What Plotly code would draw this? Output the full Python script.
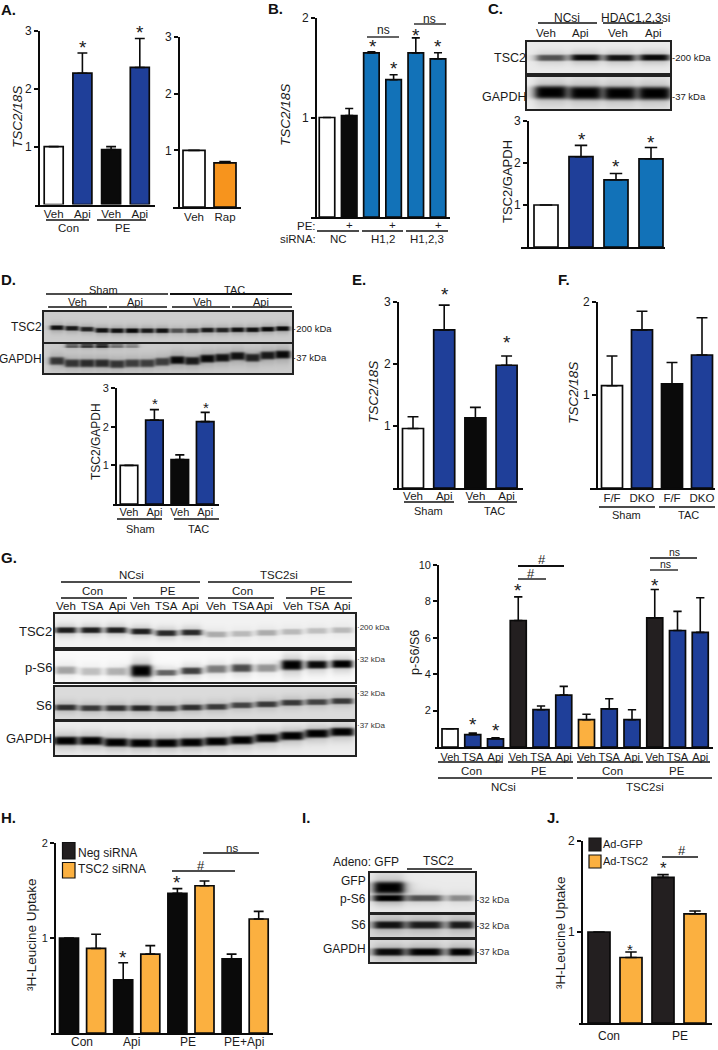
import numpy as np
import plotly.graph_objects as go

W, H = 718, 1050
FONT = "Liberation Sans"
INK = "#1a1a1a"
BLUE = "#1f3f99"
CYAN = "#1272b8"
ORANGE_A = "#f7941d"
ORANGE = "#fbb040"
BLACK = "#0a0a0a"
CHAR = "#231f20"
WHITE = "#ffffff"

# ---------- bar chart data ----------
a1_labels = ["Veh", "Api", "Veh", "Api"]
a1_values = [1.0, 2.27, 0.95, 2.37]
a1_errors = [0, 0.35, 0.05, 0.5]
a1_colors = [WHITE, BLUE, BLACK, BLUE]

a2_labels = ["Veh", "Rap"]
a2_values = [1.0, 0.78]
a2_errors = [0, 0.02]
a2_colors = [WHITE, ORANGE_A]

b_values = [1.0, 1.02, 1.65, 1.38, 1.65, 1.59]
b_errors = [0, 0.07, 0.01, 0.05, 0.15, 0.06]
b_colors = [WHITE, BLACK, CYAN, CYAN, CYAN, CYAN]

c_values = [1.0, 2.15, 1.6, 2.1]
c_errors = [0, 0.27, 0.15, 0.27]
c_colors = [WHITE, BLUE, CYAN, CYAN]

d_labels = ["Veh", "Api", "Veh", "Api"]
d_values = [1.0, 2.17, 1.15, 2.13]
d_errors = [0, 0.27, 0.12, 0.24]
d_colors = [WHITE, BLUE, BLACK, BLUE]

e_labels = ["Veh", "Api", "Veh", "Api"]
e_values = [0.96, 2.55, 1.13, 1.98]
e_errors = [0.19, 0.4, 0.17, 0.15]
e_colors = [WHITE, BLUE, BLACK, BLUE]

f_labels = ["F/F", "DKO", "F/F", "DKO"]
f_values = [1.1, 1.7, 1.12, 1.43]
f_errors = [0.32, 0.2, 0.23, 0.4]
f_colors = [WHITE, BLUE, BLACK, BLUE]

g_labels = ["Veh", "TSA", "Api"] * 4
g_values = [1.0, 0.68, 0.45, 6.95, 2.05, 2.85, 1.5, 2.1, 1.5, 7.1, 6.4, 6.3]
g_errors = [0, 0.08, 0.06, 1.3, 0.2, 0.48, 0.3, 0.55, 0.55, 1.55, 1.05, 1.9]
g_colors = [WHITE, BLUE, BLUE, CHAR, BLUE, BLUE, ORANGE, BLUE, BLUE, CHAR, BLUE, BLUE]

h_values = [1.0, 0.89, 0.56, 0.83, 1.47, 1.55, 0.78, 1.2]
h_errors = [0, 0.15, 0.18, 0.09, 0.05, 0.05, 0.05, 0.08]
h_colors = [BLACK, ORANGE] * 4

j_values = [1.0, 0.72, 1.6, 1.2]
j_errors = [0, 0.06, 0.03, 0.03]
j_colors = [CHAR, ORANGE, CHAR, ORANGE]

# ---------- blot band data (centre as fraction of strip height, darkness per lane) ----------
c_tsc2_pos = [0.48, 0.47, 0.48, 0.47]
c_tsc2_dark = [0.6, 0.95, 0.9, 0.95]
c_gapdh_pos = [0.45, 0.47, 0.48, 0.48]
c_gapdh_dark = [1.0, 1.0, 1.0, 1.0]

d_tsc2_pos = [0.49, 0.51, 0.54, 0.58, 0.59, 0.59, 0.59, 0.59, 0.59, 0.59, 0.57, 0.57, 0.56, 0.56, 0.54, 0.52]
d_tsc2_dark = [0.9, 0.85, 0.8, 0.9, 0.9, 0.95, 0.85, 0.9, 0.55, 0.7, 0.85, 0.8, 0.9, 0.9, 0.95, 0.95]
d_gapdh_pos = [0.55, 0.63, 0.63, 0.63, 0.66, 0.63, 0.63, 0.58, 0.52, 0.55, 0.47, 0.44, 0.38, 0.44, 0.36, 0.33]
d_gapdh_dark = [0.7, 0.7, 0.75, 0.75, 0.7, 0.65, 0.65, 0.65, 0.95, 0.85, 0.95, 0.9, 0.9, 0.8, 0.85, 0.95]
d_top_pos = [0.05] * 16
d_top_dark = [0, 0.5, 0.7, 0.8, 0.4, 0.3, 0, 0, 0, 0, 0, 0, 0, 0, 0, 0]

g_tsc2_pos = [0.46, 0.46, 0.46, 0.5, 0.55, 0.53, 0.59, 0.57, 0.54, 0.51, 0.48, 0.46]
g_tsc2_dark = [0.85, 0.85, 0.85, 0.85, 0.8, 0.8, 0.25, 0.2, 0.25, 0.2, 0.18, 0.2]
g_ps6_pos = [0.59, 0.63, 0.63, 0.61, 0.67, 0.61, 0.55, 0.52, 0.52, 0.42, 0.41, 0.39]
g_ps6_dark = [0.3, 0.2, 0.25, 1.0, 0.55, 0.7, 0.45, 0.65, 0.35, 1.0, 0.95, 1.0]
g_ps6_thick = [4, 4, 4, 6, 3, 3.5, 4, 4, 4, 5, 4, 4]
g_s6_pos = [0.61, 0.63, 0.63, 0.63, 0.64, 0.61, 0.59, 0.54, 0.51, 0.46, 0.44, 0.41]
g_s6_dark = [0.75, 0.7, 0.75, 0.8, 0.7, 0.75, 0.7, 0.65, 0.7, 0.7, 0.65, 0.7]
g_gapdh_pos = [0.54, 0.54, 0.59, 0.61, 0.61, 0.59, 0.56, 0.52, 0.46, 0.39, 0.32, 0.27]
g_gapdh_dark = [1.0] * 12

i_ps6_pos = [0.62, 0.62, 0.62]
i_ps6_dark = [1.0, 0.6, 0.35]
i_gfp_pos = [0.35, 0.35, 0.35]
i_gfp_dark = [1.0, 0, 0]
i_s6_pos = [0.41, 0.41, 0.41]
i_s6_dark = [0.9, 0.85, 0.85]
i_gapdh_pos = [0.5, 0.5, 0.5]
i_gapdh_dark = [0.95, 1.0, 1.0]
i_halfwidth = [15, 17, 12]

fig = go.Figure()
layout_axes = {}
shapes = []
annotations = []
axis_no = [0]


def fx(px):
    return px / W


def fy(py):
    return 1 - py / H


def new_axes():
    axis_no[0] += 1
    n = axis_no[0]
    s = "" if n == 1 else str(n)
    return ("x" + s, "y" + s, "xaxis" + s, "yaxis" + s)


def txt(x, y, s, size=11.5, anchor="center", color=INK, angle=0, bold=False, italic=False):
    annotations.append(dict(x=fx(x), y=fy(y), xref="paper", yref="paper", text=s, showarrow=False,
                            xanchor=anchor, yanchor="middle", textangle=angle,
                            font=dict(family=FONT, size=size, color=color,
                                      weight="bold" if bold else "normal",
                                      style="italic" if italic else "normal"),
                            borderpad=0, borderwidth=0))


def star(x, y, size=19):
    txt(x, y + size * 0.2, "*", size=size)


def ln(x0, x1, y, w=1.3):
    shapes.append(dict(type="line", xref="paper", yref="paper", x0=fx(x0), x1=fx(x1), y0=fy(y), y1=fy(y),
                       line=dict(color="#111111", width=w)))


def bars(values, errors, colors, labels, ymax, tickvals, axis_x, base_l, base_r, y_top, y_base,
         c0, step, bar_w, tick_size=12, label_size=11.5, standoff=-2, lw=1.7):
    xa, ya, xk, yk = new_axes()
    n = len(values)
    fig.add_trace(go.Bar(
        x=list(range(n)), y=values, width=bar_w / step, xaxis=xa, yaxis=ya,
        marker=dict(color=colors, line=dict(color="#0a0a0a", width=lw)),
        error_y=dict(type="data", symmetric=False, array=errors, arrayminus=[0] * n,
                     color="#0a0a0a", thickness=1.6, width=bar_w * 0.26),
        cliponaxis=False, showlegend=False, hoverinfo="skip"))
    xaxis = dict(domain=[fx(base_l), fx(base_r)], anchor=ya,
                 range=[(base_l - c0) / step, (base_r - c0) / step],
                 showgrid=False, zeroline=False, showline=True, linecolor="#0a0a0a", linewidth=1.6)
    if labels:
        xaxis.update(tickmode="array", tickvals=list(range(n)), ticktext=labels,
                     ticks="", ticklabelstandoff=standoff,
                     tickfont=dict(family=FONT, size=label_size, color=INK), tickangle=0)
    else:
        xaxis.update(tickmode="array", tickvals=[], ticktext=[], showticklabels=False, ticks="")
    layout_axes[xk] = xaxis
    layout_axes[yk] = dict(domain=[fy(y_base), fy(y_top)], anchor="free", position=fx(axis_x),
                           range=[0, ymax], showgrid=False, zeroline=False, showline=True,
                           linecolor="#0a0a0a", linewidth=1.8,
                           tickmode="array", tickvals=tickvals, ticktext=[str(t) for t in tickvals],
                           ticks="outside", ticklen=4, tickwidth=1.5, tickcolor="#0a0a0a",
                           tickfont=dict(family=FONT, size=tick_size, color=INK))


def blot(x0, x1, y0, y1, c0, step, bands, bg, border=1.6):
    """bands: list of (positions, darkness, half_thick_px, half_width_px)."""
    xa, ya, xk, yk = new_axes()
    nx, ny = int(x1 - x0), int(y1 - y0)
    xs_px = x0 + (np.arange(nx) + 0.5)
    ys_px = y0 + (np.arange(ny) + 0.5)
    keep = np.ones((ny, nx))
    for pos, dark, thick, halfw in bands:
        for i, (p, d) in enumerate(zip(pos, dark)):
            if d <= 0:
                continue
            t = thick[i] if isinstance(thick, (list, tuple)) else thick
            hw = halfw[i] if isinstance(halfw, (list, tuple)) else halfw
            gx = 1 / (1 + ((xs_px - (c0 + i * step)) / hw) ** 6)
            dy = ys_px - (y0 + p * (y1 - y0))
            gy = np.exp(-((dy / t) ** 4))
            halo = np.exp(-((dy / (2.2 * t)) ** 2))
            keep *= 1 - d * np.outer(gy, gx)
            keep *= 1 - 0.22 * d * np.outer(halo, gx)
    z = 1 - (1 - bg) * keep
    lane_x = (xs_px - c0) / step
    row_y = (ys_px - y0) / (y1 - y0)
    fig.add_trace(go.Heatmap(x=lane_x.tolist(), y=row_y.tolist(), z=np.round(z, 3).tolist(),
                             xaxis=xa, yaxis=ya, zmin=0, zmax=1, showscale=False, zsmooth="best",
                             colorscale=[[0, "#ffffff"], [1, "#000000"]], hoverinfo="skip"))
    layout_axes[xk] = dict(domain=[fx(x0), fx(x1)], anchor=ya, range=[(x0 - c0) / step, (x1 - c0) / step],
                           tickmode="array", tickvals=[], ticktext=[],
                           showticklabels=False, ticks="", showgrid=False, zeroline=False,
                           showline=True, mirror=True, linecolor="#222222", linewidth=border)
    layout_axes[yk] = dict(domain=[fy(y1), fy(y0)], anchor=xa, range=[1, 0],
                           tickmode="array", tickvals=[], ticktext=[],
                           showticklabels=False, ticks="", showgrid=False, zeroline=False,
                           showline=True, mirror=True, linecolor="#222222", linewidth=border)


# ---------- Panel letters ----------
for lx, ly, s in [(1, 10, "A."), (268, 9, "B."), (488, 8, "C."), (1, 280, "D."), (352, 279, "E."),
                  (558, 280, "F."), (1, 557, "G."), (1, 817, "H."), (302, 817, "I."), (547, 817, "J.")]:
    txt(lx, ly, s, size=15, anchor="left", color="#111", bold=True)

# ---------- A ----------
bars(a1_values, a1_errors, a1_colors, a1_labels, 3, [1, 2, 3], 39, 35, 155, 31, 204.5, 53.7, 28.7, 19, standoff=-2)
txt(17, 117, "TSC2/18S", 13.5, angle=-90, italic=True)
ln(46, 89, 220); ln(97, 146, 220)
txt(68, 228, "Con"); txt(123, 228, "PE")
star(82.5, 44); star(139.5, 29)
bars(a2_values, a2_errors, a2_colors, a2_labels, 3, [1, 2, 3], 179, 173, 241, 37, 207, 194, 31, 22, standoff=-2)

# ---------- B ----------
bars(b_values, b_errors, b_colors, None, 2, [1, 2], 316, 311, 450, 18, 217, 327, 22.2, 15.5)
txt(285, 115, "TSC2/18S", 13.5, angle=-90, italic=True)
txt(316, 226, "PE:", anchor="right"); txt(316, 239, "siRNA:", anchor="right")
ln(317, 359, 231); ln(362, 403, 231); ln(406, 448, 231)
txt(338, 239, "NC"); txt(383, 239, "H1,2"); txt(427, 239, "H1,2,3")
for px in [349, 393, 438]:
    txt(px, 225, "+")
star(373, 43); star(394, 65); star(416, 32); star(438, 43)
ln(367, 399, 37); txt(383, 30, "ns", 12)
ln(414, 446, 24); txt(430, 19, "ns", 12)

# ---------- C ----------
txt(567, 18, "NCsi", 12); txt(635, 18, "HDAC1,2,3si", 12)
ln(538, 597, 23); ln(603, 663, 23)
for px, s in zip([546, 580, 618, 653], ["Veh", "Api", "Veh", "Api"]):
    txt(px, 33, s, 11.5)
blot(527, 670, 42, 73, 550, 34.5, [(c_tsc2_pos, c_tsc2_dark, 3.2, 14.5)], 0.08)
blot(527, 670, 77, 109, 550, 34.5, [(c_gapdh_pos, c_gapdh_dark, 6.5, 16)], 0.07)
txt(526, 58, "TSC2", 12.5, anchor="right"); txt(526, 97, "GAPDH", 12.5, anchor="right")
txt(672, 58, "-200 kDa", 9.5, anchor="left"); txt(672, 97, "-37 kDa", 9.5, anchor="left")
bars(c_values, c_errors, c_colors, None, 3, [1, 2, 3], 528, 521, 665, 121, 247, 546, 35, 24)
txt(507, 182, "TSC2/GAPDH", 13, angle=-90)
star(582, 136); star(616, 163); star(651, 139)

# ---------- D ----------
txt(103, 290, "Sham", 11); txt(234, 290, "TAC", 11)
ln(46, 168, 294); ln(170, 292, 294, 2)
for px, s in zip([77, 135, 202, 261], ["Veh", "Api", "Veh", "Api"]):
    txt(px, 302, s, 11)
ln(48, 107, 307); ln(109, 167, 307); ln(172, 230, 307); ln(232, 292, 307)
blot(44, 292, 312, 342, 56, 15.05, [(d_tsc2_pos, d_tsc2_dark, 2.4, 6.5)], 0.2)
blot(44, 292, 344, 373, 56, 15.05, [(d_gapdh_pos, d_gapdh_dark, 4.0, 7.2), (d_top_pos, d_top_dark, 1.5, 6.5)], 0.2)
txt(42, 327, "TSC2", 12, anchor="right"); txt(42, 359, "GAPDH", 12, anchor="right")
txt(293, 328, "·200 kDa", 9.5, anchor="left"); txt(293, 358, "·37 kDa", 9.5, anchor="left")
bars(d_values, d_errors, d_colors, d_labels, 3, [1, 2, 3], 116, 113, 219, 388, 504, 129, 25.4, 17.5,
     tick_size=11, label_size=11, standoff=-3)
txt(96, 442, "TSC2/GAPDH", 12, angle=-90)
star(155, 400, 15); star(206, 404, 15)
ln(117, 162, 519); ln(174, 219, 519)
txt(140, 529, "Sham", 11); txt(199, 529, "TAC", 11)

# ---------- E ----------
bars(e_values, e_errors, e_colors, e_labels, 3, [1, 2, 3], 398, 393, 523, 302, 488, 413, 31.2, 21, standoff=-4)
txt(374, 392, "TSC2/18S", 13.5, angle=-90, italic=True)
star(445, 291); star(507, 339)
ln(404, 454, 502); ln(468, 517, 502)
txt(428, 511, "Sham", 11); txt(494, 511, "TAC", 11)

# ---------- F ----------
bars(f_values, f_errors, f_colors, f_labels, 2, [1, 2], 597, 590, 715, 302, 488, 612, 30, 21, standoff=-2)
txt(573, 393, "TSC2/18S", 13.5, angle=-90, italic=True)
ln(599, 655, 507); ln(659, 715, 507)
txt(626, 515, "Sham", 11); txt(688, 515, "TAC", 11)

# ---------- G blots ----------
txt(131, 575, "NCsi", 11.5); txt(279, 575, "TSC2si", 11.5)
ln(61, 200, 582, 1.6); ln(208, 352, 582, 1.6)
for px, s in zip([93, 168, 242, 318], ["Con", "PE", "Con", "PE"]):
    txt(px, 591, s, 11.5)
ln(61, 127, 598); ln(133, 199, 598); ln(208, 274, 598); ln(286, 352, 598)
lane_px = [66, 93, 117, 140, 166, 190, 216, 243, 264, 293, 318, 342]
for px, s in zip(lane_px, g_labels):
    txt(px, 606, s, 11.5)
blot(55, 355, 614, 647, 65, 25.1, [(g_tsc2_pos, g_tsc2_dark, 3, 10)], 0.05)
blot(55, 355, 651, 682, 65, 25.1, [(g_ps6_pos, g_ps6_dark, g_ps6_thick, 10)], 0.02)
blot(55, 355, 687, 719, 65, 25.1, [(g_s6_pos, g_s6_dark, 3, 10.5)], 0.14)
blot(55, 355, 722, 755, 65, 25.1, [(g_gapdh_pos, g_gapdh_dark, 4.2, 11.5)], 0.07)
for py, s in zip([631, 667, 705, 738], ["TSC2", "p-S6", "S6", "GAPDH"]):
    txt(52, py, s, 13, anchor="right")
for py, s in zip([627, 659, 693, 725], ["·200 kDa", "·32 kDa", "·32 kDa", "·37 kDa"]):
    txt(357, py, s, 8, anchor="left", color="#333")

# ---------- G chart ----------
bars(g_values, g_errors, g_colors, g_labels, 10, [2, 4, 6, 8, 10], 438, 435, 713, 565, 747, 450, 22.75, 16,
     tick_size=11, label_size=11, standoff=-1)
txt(415, 653, "p-S6/S6", 12.5, angle=-90)
ln(438, 503, 762, 1.5); ln(508, 573, 762, 1.5); ln(577, 643, 762, 1.5); ln(646, 710, 762, 1.5)
for px, s in zip([472, 539, 612, 677], ["Con", "PE", "Con", "PE"]):
    txt(px, 771, s, 11.5)
ln(438, 573, 778, 1.5); ln(577, 712, 778, 1.5)
txt(504, 787, "NCsi", 11.5); txt(645, 787, "TSC2si", 11.5)
star(473, 721); star(496, 727); star(518, 587); star(655, 582)
ln(518, 564, 566, 1.8); txt(542, 559, "#", 13)
ln(518, 546, 579, 1.4); txt(531, 573, "#", 13)
ln(650, 697, 558); txt(674, 552, "ns", 10.5)
ln(650, 678, 570); txt(665, 564, "ns", 10.5)

# ---------- H ----------
bars(h_values, h_errors, h_colors, None, 2, [1, 2], 55, 51, 273, 843, 1033, 69, 27.1, 19, tick_size=11)
txt(32, 935, "³H-Leucine Uptake", 13.5, angle=-90)
for px, s in zip([82, 131, 188, 244], ["Con", "Api", "PE", "PE+Api"]):
    txt(px, 1042, s, 12)
star(123, 954); star(177, 879)
ln(172, 235, 871); txt(201, 865, "#", 13)
ln(203, 259, 853); txt(232, 848, "ns", 11.5)
shapes.append(dict(type="rect", xref="paper", yref="paper", x0=fx(62.5), x1=fx(75), y0=fy(842.5), y1=fy(859),
                   fillcolor=CHAR, line=dict(color="#111", width=1.2)))
shapes.append(dict(type="rect", xref="paper", yref="paper", x0=fx(62.5), x1=fx(75), y0=fy(862.5), y1=fy(878),
                   fillcolor=ORANGE, line=dict(color="#111", width=1.2)))
txt(77.5, 853, "Neg siRNA", 12, anchor="left"); txt(77.5, 869, "TSC2 siRNA", 12, anchor="left")

# ---------- I ----------
txt(399, 862, "Adeno: GFP", 12, anchor="right")
txt(438, 861, "TSC2", 12); ln(407, 472, 869)
blot(370, 475, 873, 912, 388, 36, [(i_ps6_pos, i_ps6_dark, 3.2, i_halfwidth), (i_gfp_pos, i_gfp_dark, 6, 15)], 0.08)
blot(370, 475, 915, 937, 388, 36, [(i_s6_pos, i_s6_dark, 3.8, i_halfwidth)], 0.16)
blot(370, 475, 940, 962, 388, 36, [(i_gapdh_pos, i_gapdh_dark, 3.8, i_halfwidth)], 0.13)
for py, s in zip([881, 899, 925, 949], ["GFP", "p-S6", "S6", "GAPDH"]):
    txt(366, py, s, 12, anchor="right")
for py, s in zip([899, 925, 951], ["-32 kDa", "-32 kDa", "-37 kDa"]):
    txt(476, py, s, 9.5, anchor="left", color="#333")

# ---------- J ----------
bars(j_values, j_errors, j_colors, None, 2, [1, 2], 582, 579, 712, 841, 1023, 599, 32, 22, tick_size=12)
txt(560, 933, "³H-Leucine Uptake", 13.5, angle=-90)
txt(609, 1036, "Con", 12); txt(680, 1036, "PE", 12)
star(630, 946, 15); star(663, 865, 17)
ln(662, 698, 857); txt(682, 850, "#", 13)
shapes.append(dict(type="rect", xref="paper", yref="paper", x0=fx(589), x1=fx(601), y0=fy(838), y1=fy(851),
                   fillcolor=CHAR, line=dict(color="#111", width=1.2)))
shapes.append(dict(type="rect", xref="paper", yref="paper", x0=fx(589), x1=fx(601), y0=fy(855), y1=fy(868),
                   fillcolor=ORANGE, line=dict(color="#111", width=1.2)))
txt(603, 844, "Ad-GFP", 11, anchor="left"); txt(603, 861, "Ad-TSC2", 11, anchor="left")

fig.update_layout(width=W, height=H, autosize=False, margin=dict(l=0, r=0, t=0, b=0, autoexpand=False),
                  paper_bgcolor="white", plot_bgcolor="rgba(0,0,0,0)", showlegend=False,
                  shapes=shapes, annotations=annotations, font=dict(family=FONT, color=INK), **layout_axes)
fig.write_html("out.html", config={"displayModeBar": False},
               post_script="document.body.style.margin='0';document.body.style.overflow='hidden';")
